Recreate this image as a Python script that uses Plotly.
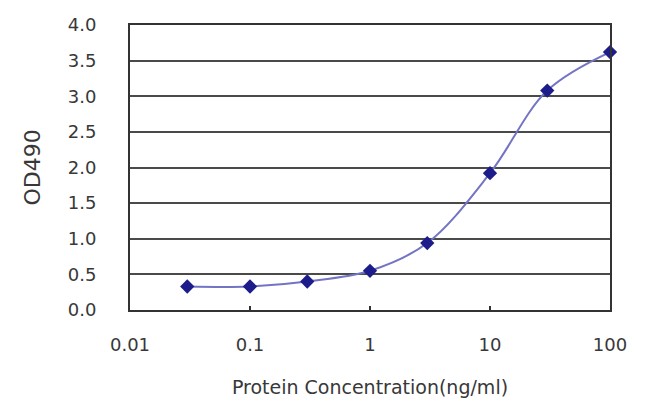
import plotly.graph_objects as go

concentration = [0.03, 0.1, 0.3, 1, 3, 10, 30, 100]
od490 = [0.33, 0.33, 0.40, 0.55, 0.94, 1.92, 3.08, 3.62]
x_ticks = [0.01, 0.1, 1, 10, 100]
x_tick_labels = ["0.01", "0.1", "1", "10", "100"]
y_ticks = [0, 0.5, 1, 1.5, 2, 2.5, 3, 3.5, 4]
y_tick_labels = ["0.0", "0.5", "1.0", "1.5", "2.0", "2.5", "3.0", "3.5", "4.0"]

fig = go.Figure()
fig.add_trace(go.Scatter(
    x=concentration, y=od490, mode="lines",
    line=dict(color="#7474c4", width=2, shape="spline", smoothing=1.0),
    hoverinfo="skip", cliponaxis=False, showlegend=False,
))
fig.add_trace(go.Scatter(
    x=concentration, y=od490, mode="markers",
    marker=dict(symbol="diamond", size=11, color="#1c1c8a"),
    cliponaxis=False, showlegend=False,
))

fam = "DejaVu Sans, Liberation Sans, sans-serif"
txt = "#383838"
fig.update_layout(
    width=642, height=411,
    margin=dict(l=122, r=40, t=17, b=109),
    paper_bgcolor="white", plot_bgcolor="white",
    font=dict(family=fam, size=18, color=txt),
    xaxis=dict(
        type="log", range=[-2, 2],
        tickvals=x_ticks, ticktext=x_tick_labels,
        tickfont=dict(size=18, color=txt),
        showgrid=False, zeroline=False,
        showline=True, linecolor="#333333", linewidth=2, mirror=True,
        ticks="inside", ticklen=4, tickcolor="#333333", tickwidth=2,
        title=dict(text="Protein Concentration(ng/ml)", standoff=27,
                   font=dict(size=19, color=txt)),
        ticklabelstandoff=17, automargin=False,
    ),
    yaxis=dict(
        range=[0, 4],
        tickvals=y_ticks, ticktext=y_tick_labels,
        tickfont=dict(size=18, color=txt),
        showgrid=True, gridcolor="#4a4a4a", gridwidth=2,
        zeroline=False,
        showline=True, linecolor="#333333", linewidth=2, mirror=True,
        ticks="", title=dict(text="OD490", standoff=21,
                             font=dict(size=22, color=txt)),
        ticklabelstandoff=28, automargin=False,
    ),
)
fig.write_html("out.html")
